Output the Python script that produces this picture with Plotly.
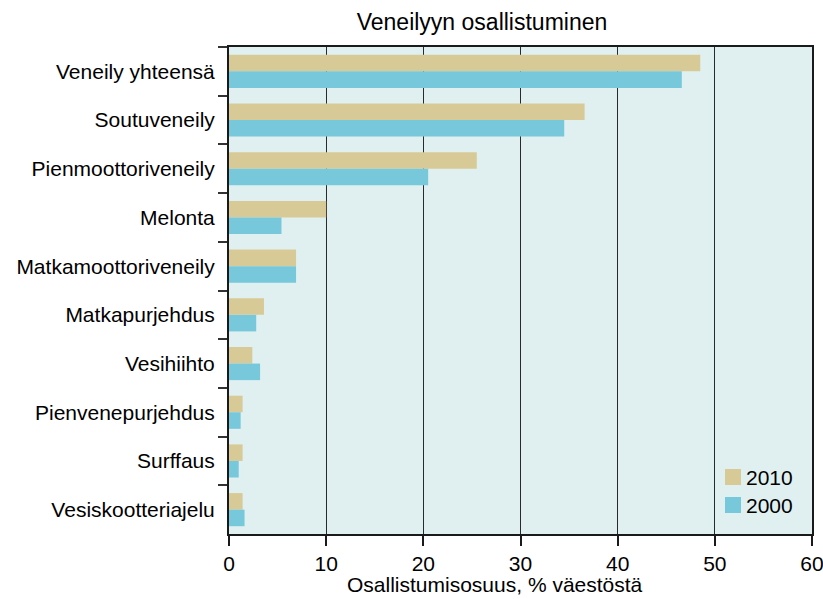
import plotly.graph_objects as go

categories = [
    "Veneily yhteensä",
    "Soutuveneily",
    "Pienmoottoriveneily",
    "Melonta",
    "Matkamoottoriveneily",
    "Matkapurjehdus",
    "Vesihiihto",
    "Pienvenepurjehdus",
    "Surffaus",
    "Vesiskootteriajelu",
]
values_2010 = [48.5, 36.6, 25.5, 10.0, 6.9, 3.6, 2.4, 1.4, 1.4, 1.4]
values_2000 = [46.6, 34.5, 20.5, 5.4, 6.9, 2.8, 3.2, 1.2, 1.0, 1.6]
series_names = ["2010", "2000"]
x_ticks = [0, 10, 20, 30, 40, 50, 60]

FONT = "Liberation Sans, Arial, Helvetica, sans-serif"
COLORS = ["#D8CA96", "#77C8DB"]
W, H = 823, 599
ML, MR, MT, MB = 229, 11, 47, 65
PW, PH = W - ML - MR, H - MT - MB


def px_x(x):
    """Pixel column -> paper x."""
    return (x - ML) / PW


def px_y(y):
    """Pixel row -> paper y."""
    return ((H - MB) - y) / PH


fig = go.Figure()
for name, vals, col in zip(series_names, [values_2010, values_2000], COLORS):
    fig.add_trace(go.Bar(y=categories, x=vals, name=name, orientation="h",
                         marker=dict(color=col, line=dict(width=0)),
                         showlegend=False))

fig.update_layout(
    width=W, height=H,
    margin=dict(l=ML, r=MR, t=MT, b=MB, autoexpand=False),
    paper_bgcolor="white",
    plot_bgcolor="#E0F0F0",
    barmode="group",
    bargap=0.32,
    bargroupgap=0,
    font=dict(family=FONT, size=21, color="black"),
    title=dict(text="Veneilyyn osallistuminen", x=482 / W, xanchor="center",
               y=1 - 22 / H, yanchor="middle", font=dict(size=23)),
)

fig.update_xaxes(
    range=[0, 60], tickvals=x_ticks, ticktext=[str(t) for t in x_ticks],
    showgrid=True, gridcolor="#2a2a2a", gridwidth=1,
    showline=True, linecolor="#1a1a1a", linewidth=2, mirror=True,
    ticks="outside", ticklen=10, tickcolor="#1a1a1a", tickwidth=1.5,
    zeroline=False, automargin=False, ticklabeloverflow="allow",
    tickfont=dict(size=21),
)
fig.update_yaxes(
    categoryorder="array", categoryarray=categories, autorange="reversed",
    showgrid=False, automargin=False,
    showline=True, linecolor="#1a1a1a", linewidth=2, mirror=True,
    ticks="outside", ticklen=9, tickcolor="#333333", tickwidth=1.5,
    tickson="boundaries",
    ticklabelstandoff=8,
    tickfont=dict(size=21),
)

# x-axis title
fig.add_annotation(text="Osallistumisosuus, % väestöstä", xref="paper", yref="paper",
                   x=px_x(495), y=px_y(584), xanchor="center", yanchor="middle",
                   showarrow=False, font=dict(size=21))

# legend: colour swatches with year labels, inside the plot area
legend_rows = [477, 505]
for name, col, yc in zip(series_names, COLORS, legend_rows):
    fig.add_shape(type="rect", xref="paper", yref="paper",
                  x0=px_x(725), x1=px_x(741), y0=px_y(yc - 8), y1=px_y(yc + 8),
                  fillcolor=col, line=dict(width=0))
    fig.add_annotation(text=name, xref="paper", yref="paper",
                       x=px_x(744), y=px_y(yc), xanchor="left", yanchor="middle",
                       showarrow=False, font=dict(size=21))

fig.write_html("out.html")
